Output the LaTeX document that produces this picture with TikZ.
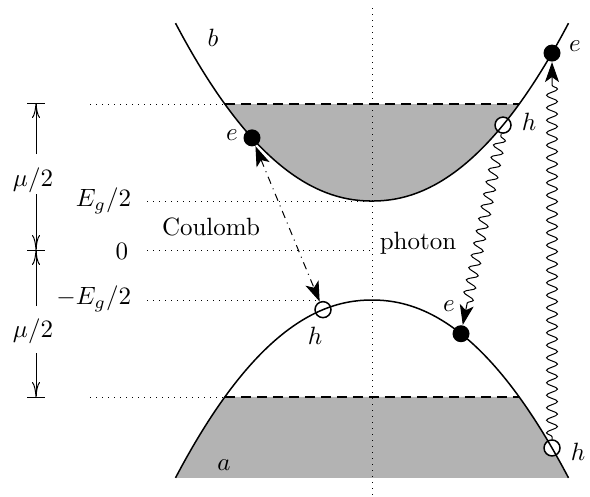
\documentclass[tikz,border=0pt]{standalone}
\usetikzlibrary{arrows.meta,decorations.pathmorphing,calc}
\definecolor{bandgray}{RGB}{179,179,179}
\begin{document}
\begin{tikzpicture}[x=0.4pt,y=-0.4pt,
  curve/.style={semithick},
  guide/.style={dotted},
  fermi/.style={line width=0.8pt, dash pattern=on 4pt off 2.4pt},
  edot/.style={circle, fill=black, inner sep=0pt, minimum size=6.8pt},
  hdot/.style={circle, draw=black, fill=white, semithick, inner sep=0pt, minimum size=6.4pt},
  tip/.style={-{Stealth[length=8pt,width=5.6pt,inset=2pt]}},
  dimarrow/.style={-{To[length=6pt,width=3.2pt]}},
  photon/.style={decorate, decoration={snake, amplitude=2.2pt, segment length=5pt, pre length=1pt, post length=8pt}, tip},
  lbl/.style={inner sep=1pt}
]
\useasboundingbox (0,0) rectangle (590,496);
\def\up#1{{201-43.06*((abs(#1)+0.01)/100)^2.1}}
\def\lo#1{{300+43.06*((abs(#1)+0.01)/100)^2.1}}
% bands
\fill[bandgray] plot[domain=-147.2:147.2, samples=80] ({372+\x},\up{\x}) -- cycle;
\fill[bandgray] plot[domain=-196.5:-147.2, samples=30] ({372+\x},\lo{\x})
  -- plot[domain=147.2:196.5, samples=30] ({372+\x},\lo{\x}) -- cycle;
% guides
\draw[guide] (372,8) -- (372,496);
\draw[guide] (90,104) -- (224,104);
\draw[guide] (147,201) -- (372,201);
\draw[guide] (147,250) -- (372,250);
\draw[guide] (147,300) -- (316,300);
\draw[guide] (90,397) -- (224,397);
\draw[fermi] (224.8,104) -- (519.2,104);
\draw[fermi] (224.8,397) -- (519.2,397);
% holes
\node[hdot] (h2) at ({372+131},\up{131}) {};
\node[hdot] (h1) at ({372-49},\lo{49}) {};
\node[hdot] (h3) at ({372+180},\lo{180}) {};
% band curves
\draw[curve] plot[domain=-196.5:196.5, samples=120] ({372+\x},\up{\x});
\draw[curve] plot[domain=-196.5:196.5, samples=120] ({372+\x},\lo{\x});
% electrons
\node[edot] (e1) at ({372-120},\up{120}) {};
\node[edot] (e3) at ({372+180},\up{180}) {};
\node[edot] (e2) at ({372+89},\lo{89}) {};
% labels
\node[lbl] (lb) at (213,38) {$b$};
\node[lbl] (la) at (224,465) {$a$};
\node[lbl] (le1) at (232,135) {$e$};
\node[lbl] (lh2) at (529,122) {$h$};
\node[lbl] (le3) at (575,46) {$e$};
\node[lbl] (lh1) at (315,336) {$h$};
\node[lbl] (le2) at (449,306) {$e$};
\node[lbl] (lh3) at (578,452) {$h$};
\node[lbl] (coul) at (211,227) {Coulomb};
\node[lbl] (phot) at (418,243) {photon};
\node[lbl, anchor=east] (eg) at (134,201) {$E_g/2$};
\node[lbl, anchor=east] (zero) at (131,251) {$0$};
\node[lbl, anchor=east] (meg) at (134,299) {$-E_g/2$};
% connectors
\draw[dash dot, {Stealth[length=8pt,width=5.6pt,inset=2pt]}-{Stealth[length=8pt,width=5.6pt,inset=2pt]}] (e1) -- (h1);
\draw[photon] (h2) -- (e2);
\draw[photon] (h3) -- (e3);
% dimensions
\coordinate (t1) at (36,103);
\coordinate (t2) at (36,250);
\coordinate (t3) at (36,397);
\coordinate (a1) at (36,154);
\coordinate (a2) at (36,194);
\coordinate (a3) at (36,306);
\coordinate (a4) at (36,353);
\foreach \t in {t1,t2,t3} \draw ($(\t)+(-9,0)$) -- ($(\t)+(9,0)$);
\node[lbl] (m1) at (33,180) {$\mu/2$};
\node[lbl] (m2) at (33,331) {$\mu/2$};
\draw[dimarrow] (a1) -- (t1);
\draw[dimarrow] (a2) -- (t2);
\draw[dimarrow] (a3) -- (t2);
\draw[dimarrow] (a4) -- (t3);
\end{tikzpicture}
\end{document}
